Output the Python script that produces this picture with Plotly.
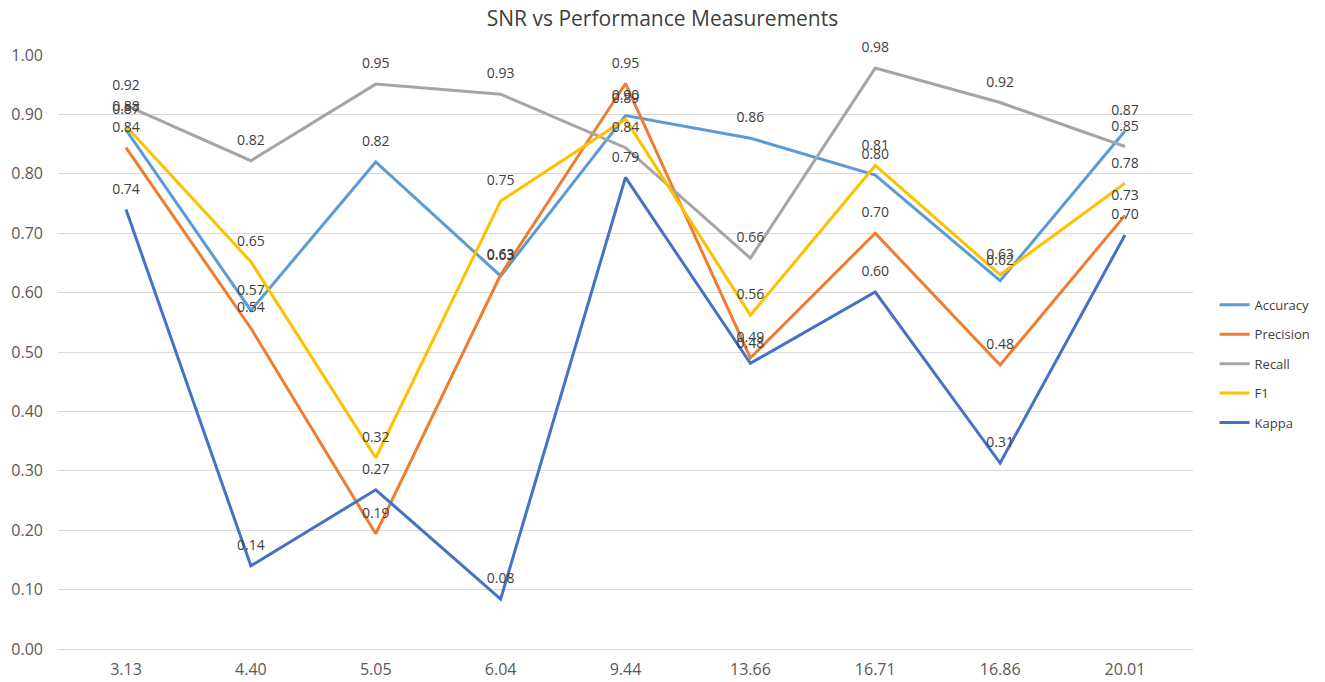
import plotly.graph_objects as go

snr = ["3.13", "4.40", "5.05", "6.04", "9.44", "13.66", "16.71", "16.86", "20.01"]
accuracy = [0.874, 0.57, 0.82, 0.628, 0.898, 0.86, 0.798, 0.62, 0.872]
precision = [0.844, 0.54, 0.194, 0.63, 0.952, 0.49, 0.70, 0.478, 0.73]
recall = [0.915, 0.822, 0.951, 0.934, 0.844, 0.658, 0.978, 0.92, 0.846]
f1 = [0.880, 0.652, 0.322, 0.754, 0.892, 0.562, 0.814, 0.630, 0.784]
kappa = [0.74, 0.14, 0.268, 0.084, 0.794, 0.481, 0.601, 0.313, 0.697]

series = [
    ("Accuracy", accuracy, "#5B9BD5"),
    ("Precision", precision, "#ED7D31"),
    ("Recall", recall, "#A5A5A5"),
    ("F1", f1, "#FFC000"),
    ("Kappa", kappa, "#4472C4"),
]

font_family = "Open Sans, Liberation Sans, sans-serif"

fig = go.Figure()
for i, (name, vals, color) in enumerate(series):
    fig.add_trace(go.Scatter(
        x=snr, y=vals, name=name, mode="lines",
        line=dict(color=color, width=3),
        legendgroup=f"g{i}",
        cliponaxis=False,
    ))
for i, (name, vals, color) in enumerate(series):
    fig.add_trace(go.Scatter(
        x=snr, y=vals, name=name, mode="markers+text",
        marker=dict(size=18, opacity=0, color=color),
        text=[f"{v:.2f}" for v in vals],
        textposition="top center",
        textfont=dict(size=14, color="#404040", family=font_family),
        showlegend=False, legendgroup=f"g{i}",
        cliponaxis=False, hoverinfo="skip",
    ))

fig.update_layout(
    template="none",
    width=1325, height=682,
    paper_bgcolor="white", plot_bgcolor="white",
    margin=dict(l=58, r=132, t=55, b=33, autoexpand=False),
    title=dict(text="SNR vs Performance Measurements", x=0.5, xanchor="center",
               y=0.973, yanchor="middle",
               font=dict(size=21, color="#404040", family=font_family)),
    font=dict(family=font_family, color="#404040", size=13),
    showlegend=True,
    legend=dict(x=1.019, xanchor="left", y=0.48, yanchor="middle",
                bgcolor="rgba(0,0,0,0)",
                font=dict(size=13, color="#404040", family=font_family),
                tracegroupgap=9.5, itemwidth=30),
    xaxis=dict(type="category", showgrid=False, zeroline=False,
               showline=True, linecolor="#D9D9D9", linewidth=1,
               ticks="", ticklabelstandoff=6,
               tickfont=dict(size=16, color="#595959", family=font_family)),
    yaxis=dict(range=[0, 1.0], dtick=0.1, tickformat=".2f",
               showgrid=True, gridcolor="#D9D9D9", gridwidth=1,
               zeroline=False, showline=False, ticks="", ticklabelstandoff=14,
               tickfont=dict(size=16, color="#595959", family=font_family)),
)

fig.write_html("out.html", config={"displayModeBar": False},
               post_script="document.body.style.margin='0';document.body.style.overflow='hidden';")
